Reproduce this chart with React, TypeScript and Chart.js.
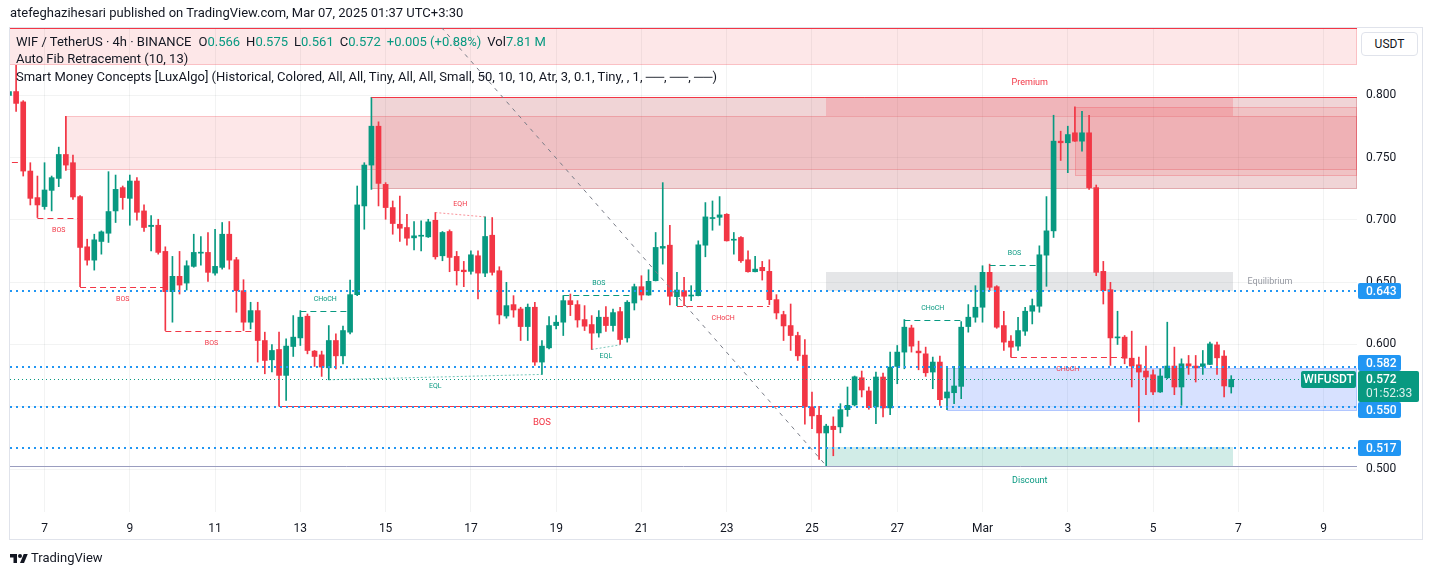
import React, { useEffect, useRef } from "react";
import { Chart, registerables } from "chart.js";

Chart.register(...registerables);

// ---- candle data (4h candles, index 0 = Feb 6 ~04:00) ----
const opens = [
  0.8000, 0.8030, 0.7947, 0.7392, 0.7179, 0.7107, 0.7237, 0.7333, 0.7525, 0.7459,
  0.7187, 0.6784, 0.6677, 0.6827, 0.6893, 0.7072, 0.7259, 0.7173, 0.7312, 0.7072,
  0.6947, 0.6957, 0.6747, 0.6424, 0.6547, 0.6493, 0.6627, 0.6733, 0.6739, 0.6573,
  0.6619, 0.6885, 0.6680, 0.6432, 0.6179, 0.6272, 0.6032, 0.5877, 0.5960, 0.5752,
  0.5984, 0.6053, 0.6227, 0.5947, 0.5917, 0.5813, 0.6032, 0.5909, 0.6099, 0.6400,
  0.7112, 0.7440, 0.7752, 0.7285, 0.7099, 0.6965, 0.6939, 0.6856, 0.6869, 0.6864,
  0.6997, 0.6712, 0.6907, 0.6707, 0.6597, 0.6587, 0.6712, 0.6573, 0.6877, 0.6592,
  0.6229, 0.6320, 0.6285, 0.6144, 0.6299, 0.5859, 0.5973, 0.6152, 0.6179, 0.6352,
  0.6320, 0.6200, 0.6160, 0.6093, 0.6219, 0.6152, 0.6264, 0.6053, 0.6333, 0.6464,
  0.6397, 0.6512, 0.6773, 0.6797, 0.6384, 0.6432, 0.6389, 0.6392, 0.6797, 0.7011,
  0.7021, 0.7045, 0.6837, 0.6859, 0.6680, 0.6584, 0.6619, 0.6587, 0.6360, 0.6240,
  0.6152, 0.6072, 0.5915, 0.5500, 0.5432, 0.5290, 0.5344, 0.5339, 0.5477, 0.5515,
  0.5733, 0.5627, 0.5499, 0.5739, 0.5491, 0.5824, 0.5939, 0.6133, 0.5947, 0.5925,
  0.5779, 0.5859, 0.5571, 0.5613, 0.5664, 0.6144, 0.6219, 0.6299, 0.6579, 0.6464,
  0.6152, 0.6027, 0.5987, 0.6107, 0.6267, 0.6307, 0.6717, 0.6912, 0.7632, 0.7619,
  0.7699, 0.7632, 0.7699, 0.7259, 0.6587, 0.6440, 0.6053, 0.6059, 0.5890, 0.5837,
  0.5787, 0.5757, 0.5619, 0.5733, 0.5827, 0.5659, 0.5845, 0.5827, 0.5824, 0.5840,
  0.5997, 0.5907, 0.5660,
];
const highs = [
  0.8060, 0.8240, 0.7957, 0.7459, 0.7352, 0.7459, 0.7352, 0.7584, 0.7832, 0.7520,
  0.7195, 0.6845, 0.6885, 0.6912, 0.7387, 0.7360, 0.7272, 0.7360, 0.7339, 0.7120,
  0.7035, 0.7005, 0.6784, 0.6707, 0.6747, 0.6672, 0.6885, 0.6867, 0.6899, 0.6925,
  0.6979, 0.6987, 0.6699, 0.6520, 0.6339, 0.6339, 0.6099, 0.6000, 0.6099, 0.6045,
  0.6232, 0.6272, 0.6245, 0.5952, 0.5947, 0.6152, 0.6085, 0.6147, 0.6517, 0.7272,
  0.7459, 0.7984, 0.7787, 0.7299, 0.7152, 0.7192, 0.7045, 0.6987, 0.6992, 0.7005,
  0.7059, 0.6907, 0.6920, 0.6747, 0.6667, 0.6752, 0.6752, 0.7024, 0.7019, 0.6624,
  0.6499, 0.6392, 0.6299, 0.6325, 0.6339, 0.6032, 0.6224, 0.6232, 0.6392, 0.6405,
  0.6352, 0.6312, 0.6232, 0.6272, 0.6304, 0.6285, 0.6299, 0.6352, 0.6485, 0.6552,
  0.6600, 0.6899, 0.7299, 0.6957, 0.6579, 0.6539, 0.6472, 0.6832, 0.7139, 0.7152,
  0.7187, 0.7050, 0.6899, 0.6867, 0.6752, 0.6707, 0.6667, 0.6680, 0.6400, 0.6267,
  0.6325, 0.6099, 0.6040, 0.5619, 0.5504, 0.5360, 0.5419, 0.5525, 0.5659, 0.5747,
  0.5787, 0.5659, 0.5779, 0.5771, 0.5939, 0.5992, 0.6200, 0.6155, 0.6027, 0.5979,
  0.5899, 0.5907, 0.5819, 0.5824, 0.6184, 0.6320, 0.6472, 0.6632, 0.6645, 0.6472,
  0.6267, 0.6072, 0.6219, 0.6299, 0.6365, 0.6792, 0.7187, 0.7840, 0.7712, 0.7752,
  0.7907, 0.7872, 0.7840, 0.7280, 0.6667, 0.6499, 0.6267, 0.6072, 0.6107, 0.5899,
  0.5987, 0.5797, 0.5805, 0.6179, 0.5979, 0.5885, 0.5912, 0.5912, 0.5952, 0.6019,
  0.6019, 0.5952, 0.5750,
];
const lows = [
  0.7980, 0.7870, 0.7352, 0.7120, 0.7019, 0.7085, 0.7072, 0.7267, 0.7397, 0.7165,
  0.6464, 0.6637, 0.6597, 0.6725, 0.6819, 0.6979, 0.7085, 0.6957, 0.6997, 0.6907,
  0.6752, 0.6725, 0.6112, 0.6179, 0.6405, 0.6437, 0.6620, 0.6637, 0.6507, 0.6557,
  0.6605, 0.6605, 0.6259, 0.6112, 0.6125, 0.5859, 0.5765, 0.5779, 0.5505, 0.5552,
  0.5904, 0.5992, 0.5925, 0.5824, 0.5744, 0.5717, 0.5805, 0.5845, 0.6085, 0.6392,
  0.6925, 0.7245, 0.7112, 0.7005, 0.6885, 0.6827, 0.6797, 0.6760, 0.6752, 0.6859,
  0.6685, 0.6672, 0.6584, 0.6477, 0.6464, 0.6565, 0.6365, 0.6544, 0.6557, 0.6165,
  0.6211, 0.6219, 0.6032, 0.6032, 0.5832, 0.5760, 0.5965, 0.6125, 0.6072, 0.6232,
  0.6139, 0.6112, 0.5960, 0.6059, 0.6104, 0.6107, 0.6000, 0.6019, 0.6277, 0.6357,
  0.6395, 0.6510, 0.6645, 0.6317, 0.6312, 0.6312, 0.6352, 0.6390, 0.6704, 0.6917,
  0.6957, 0.6830, 0.6725, 0.6659, 0.6580, 0.6582, 0.6517, 0.6320, 0.6205, 0.6032,
  0.5952, 0.5872, 0.5360, 0.5325, 0.5077, 0.5027, 0.5107, 0.5291, 0.5424, 0.5507,
  0.5579, 0.5480, 0.5365, 0.5419, 0.5437, 0.5685, 0.5805, 0.5939, 0.5797, 0.5744,
  0.5645, 0.5512, 0.5477, 0.5525, 0.5565, 0.6099, 0.6179, 0.6179, 0.6432, 0.6130,
  0.5952, 0.5899, 0.5952, 0.6072, 0.6165, 0.6259, 0.6467, 0.6859, 0.7477, 0.7379,
  0.7630, 0.7552, 0.7245, 0.6552, 0.6325, 0.5832, 0.6000, 0.5845, 0.5659, 0.5379,
  0.5597, 0.5597, 0.5615, 0.5725, 0.5597, 0.5512, 0.5760, 0.5699, 0.5760, 0.5838,
  0.5760, 0.5579, 0.5610,
];
const closes = [
  0.8030, 0.7935, 0.7392, 0.7173, 0.7120, 0.7240, 0.7339, 0.7525, 0.7440, 0.7184,
  0.6779, 0.6677, 0.6840, 0.6904, 0.7067, 0.7245, 0.7179, 0.7312, 0.7061, 0.6939,
  0.6957, 0.6739, 0.6424, 0.6547, 0.6477, 0.6632, 0.6739, 0.6739, 0.6579, 0.6627,
  0.6885, 0.6677, 0.6432, 0.6179, 0.6272, 0.6032, 0.5872, 0.5952, 0.5752, 0.5987,
  0.6059, 0.6219, 0.5952, 0.5904, 0.5819, 0.6032, 0.5909, 0.6112, 0.6400, 0.7120,
  0.7440, 0.7752, 0.7293, 0.7099, 0.6971, 0.6933, 0.6853, 0.6872, 0.6877, 0.6984,
  0.6704, 0.6899, 0.6699, 0.6592, 0.6584, 0.6720, 0.6573, 0.6867, 0.6579, 0.6237,
  0.6312, 0.6277, 0.6144, 0.6299, 0.5859, 0.5987, 0.6152, 0.6179, 0.6352, 0.6320,
  0.6197, 0.6147, 0.6091, 0.6219, 0.6152, 0.6256, 0.6040, 0.6339, 0.6464, 0.6397,
  0.6507, 0.6779, 0.6787, 0.6387, 0.6437, 0.6387, 0.6395, 0.6800, 0.7024, 0.7019,
  0.7040, 0.6832, 0.6845, 0.6672, 0.6584, 0.6605, 0.6592, 0.6360, 0.6253, 0.6149,
  0.6072, 0.5909, 0.5500, 0.5427, 0.5290, 0.5345, 0.5317, 0.5477, 0.5512, 0.5741,
  0.5635, 0.5493, 0.5739, 0.5491, 0.5819, 0.5939, 0.6139, 0.5987, 0.5933, 0.5773,
  0.5859, 0.5557, 0.5619, 0.5667, 0.6139, 0.6219, 0.6299, 0.6579, 0.6459, 0.6139,
  0.6019, 0.5979, 0.6112, 0.6267, 0.6312, 0.6720, 0.6912, 0.7632, 0.7619, 0.7685,
  0.7632, 0.7699, 0.7259, 0.6579, 0.6432, 0.6053, 0.6059, 0.5890, 0.5827, 0.5779,
  0.5739, 0.5619, 0.5747, 0.5827, 0.5659, 0.5845, 0.5827, 0.5813, 0.5845, 0.6005,
  0.5893, 0.5667, 0.5720,
];

// ---- axes ----
const dayTickIndex = [5, 17, 29, 41, 53, 65, 77, 89, 101, 113, 125, 137, 149, 161, 173, 185];
const dayTickLabels = ["7", "9", "11", "13", "15", "17", "19", "21", "23", "25", "27", "Mar", "3", "5", "7", "9"];
const priceTicks = [0.5, 0.55, 0.6, 0.65, 0.7, 0.75, 0.8];
const viewRange = [0.14, 189.7];
const priceRange = [0.46557, 0.85401];

// ---- Smart Money Concepts drawings ----
// order blocks: [start index, top, bottom, kind]
const bearishBlocks: [number, number, number, string][] = [
  [0, 0.8540, 0.8240, "internal"],
  [8, 0.7832, 0.7397, "internal"],
  [51, 0.7984, 0.7245, "swing"],
  [150, 0.7907, 0.7352, "internal"],
];
const bullishBlocks: [number, number, number, string][] = [[132, 0.5815, 0.5470, "internal"]];
// trailing extremes: [start index, price]
const trailingHighs: [number, number][] = [[0, 0.8537], [51, 0.7984]];
const zoneSpan = [115, 172.3];
const premiumZone = [0.7984, 0.7836];
const equilibriumZone = [0.6580, 0.6432];
const discountZone = [0.5175, 0.5027];
// structure breaks: [from, to, level, label, direction, kind]
const structureBreaks: [number, number, number, string, string, string][] = [
  [-1, 1.8, 0.7467, "", "bear", "internal"],
  [4, 10, 0.7019, "BOS", "bear", "internal"],
  [10, 22, 0.6464, "BOS", "bear", "internal"],
  [22, 35, 0.6112, "BOS", "bear", "internal"],
  [38, 112, 0.5505, "BOS", "bear", "swing"],
  [41, 48, 0.6272, "CHoCH", "bull", "internal"],
  [78, 88, 0.6395, "BOS", "bull", "internal"],
  [94, 107, 0.6312, "CHoCH", "bear", "internal"],
  [126, 134, 0.6200, "CHoCH", "bull", "internal"],
  [138, 145, 0.6640, "BOS", "bull", "internal"],
  [141, 157, 0.5899, "CHoCH", "bear", "internal"],
];
// equal highs / lows: [from, price1, to, price2, label, direction]
const equalLevels: [number, number, number, number, string, string][] = [
  [45, 0.5717, 75, 0.5760, "EQL", "bull"],
  [60, 0.7059, 67, 0.7024, "EQH", "bear"],
  [82, 0.5960, 86, 0.5997, "EQL", "bull"],
];
// horizontal levels drawn by the author
const levelLines = [0.643, 0.582, 0.55, 0.517];
// auto fib trend line: [index, price] start and end, plus the base level
const fibTrend: [number, number][] = [[60, 0.8600], [115, 0.5027]];
const fibBaseLevel = 0.5027;

const symbolName = "WIFUSDT";
const countdown = "01:52:33";

const UP = "#089981";
const DOWN = "#f23645";
const BLUE = "#2196f3";
const TEXT = "#131722";
const FONT = "Roboto, sans-serif";

const candleColors = closes.map((c, i) => (c >= opens[i] ? UP : DOWN));
const lastIndex = closes.length - 1;
const lastPrice = closes[lastIndex];

const overlayPlugin = {
  id: "smcOverlay",
  beforeDatasetsDraw(chart: any) {
    const { ctx, chartArea: a, scales } = chart;
    const X = (v: number) => scales.x.getPixelForValue(v);
    const Y = (v: number) => scales.y.getPixelForValue(v);
    ctx.save();
    ctx.beginPath();
    ctx.rect(a.left, a.top, a.right - a.left, a.bottom - a.top);
    ctx.clip();
    const box = (x1: number, x2: number, top: number, bottom: number, fill: string, stroke: string | null) => {
      const y1 = Math.round(Y(top));
      const y2 = Math.round(Y(bottom));
      const l = Math.round(x1);
      const r = Math.round(x2);
      ctx.fillStyle = fill;
      ctx.fillRect(l, y1, r - l, y2 - y1);
      if (stroke) {
        ctx.strokeStyle = stroke;
        ctx.lineWidth = 1;
        ctx.strokeRect(l + 0.5, y1 + 0.5, r - l - 1, y2 - y1 - 1);
      }
    };
    bearishBlocks.forEach(([s, t, b, kind]) => {
      if (kind === "swing") box(X(s), a.right, t, b, "rgba(178,40,51,0.2)", "rgba(178,40,51,0.25)");
      else box(X(s), a.right, t, b, "rgba(242,54,69,0.12)", "rgba(242,54,69,0.22)");
    });
    bullishBlocks.forEach(([s, t, b]) => {
      box(X(s), a.right, t, b, "rgba(41,98,255,0.19)", "rgba(41,98,255,0.22)");
    });
    const zl = X(zoneSpan[0]);
    const zr = X(zoneSpan[1]);
    box(zl, zr, premiumZone[0], premiumZone[1], "rgba(242,54,69,0.2)", null);
    box(zl, zr, equilibriumZone[0], equilibriumZone[1], "rgba(135,139,148,0.22)", null);
    box(zl, zr, discountZone[0], discountZone[1], "rgba(8,153,129,0.19)", null);
    ctx.restore();
  },
  afterDatasetsDraw(chart: any) {
    const { ctx, chartArea: a, scales } = chart;
    const X = (v: number) => scales.x.getPixelForValue(v);
    const Y = (v: number) => scales.y.getPixelForValue(v);
    const snap = (v: number) => Math.round(v) + 0.5;
    ctx.save();
    ctx.beginPath();
    ctx.rect(a.left, a.top, a.right - a.left, a.bottom - a.top);
    ctx.clip();
    const hline = (x1: number, x2: number, y: number, color: string, width: number, dash: number[]) => {
      ctx.beginPath();
      ctx.setLineDash(dash);
      ctx.strokeStyle = color;
      ctx.lineWidth = width;
      ctx.moveTo(x1, y);
      ctx.lineTo(x2, y);
      ctx.stroke();
    };
    const text = (t: string, x: number, y: number, color: string, size: number, align: CanvasTextAlign = "center") => {
      ctx.font = `${size}px ${FONT}`;
      ctx.fillStyle = color;
      ctx.textAlign = align;
      ctx.textBaseline = "middle";
      ctx.fillText(t, x, y);
    };

    // trailing highs (red) and fib base (gray)
    trailingHighs.forEach(([s, p]) => hline(X(s), a.right, snap(Y(p)), DOWN, 1, []));
    hline(a.left, a.right, snap(Y(fibBaseLevel)), "#9a9dbf", 1, []);

    // fib trend line
    ctx.beginPath();
    ctx.setLineDash([4, 5]);
    ctx.strokeStyle = "#787b86";
    ctx.lineWidth = 1;
    ctx.moveTo(X(fibTrend[0][0]), Y(fibTrend[0][1]));
    ctx.lineTo(X(fibTrend[1][0]), Y(fibTrend[1][1]));
    ctx.stroke();

    // structure
    structureBreaks.forEach(([f, t, lvl, label, dir, kind]) => {
      const col = dir === "bull" ? UP : DOWN;
      const y = snap(Y(lvl));
      hline(X(f), X(t), y, col, 1, kind === "internal" ? [6, 4] : []);
      if (label) {
        const off = kind === "internal" ? 12 : 16;
        const size = kind === "internal" ? 7 : 9.5;
        text(label, (X(f) + X(t)) / 2, y + (dir === "bull" ? -off : off), col, size);
      }
    });

    // equal highs / lows
    equalLevels.forEach(([f, p1, t, p2, label, dir]) => {
      const col = dir === "bull" ? "rgba(8,153,129,0.55)" : "rgba(242,54,69,0.55)";
      ctx.beginPath();
      ctx.setLineDash([2, 2]);
      ctx.strokeStyle = col;
      ctx.lineWidth = 1;
      ctx.moveTo(X(f), Y(p1));
      ctx.lineTo(X(t), Y(p2));
      ctx.stroke();
      const mid = (Y(p1) + Y(p2)) / 2;
      text(label, (X(f) + X(t)) / 2, mid + (dir === "bull" ? 9 : -10), dir === "bull" ? UP : DOWN, 7);
    });

    // premium / discount labels
    const zc = (X(zoneSpan[0]) + X(zoneSpan[1])) / 2;
    text("Premium", zc, Y(premiumZone[0]) - 15, DOWN, 9);
    text("Discount", zc, Y(discountZone[1]) + 15, UP, 9);
    text("Equilibrium", X(zoneSpan[1] + 2), (Y(equilibriumZone[0]) + Y(equilibriumZone[1])) / 2, "#9598a1", 9, "left");

    // author levels
    levelLines.forEach((p) => hline(a.left, a.right, Math.round(Y(p)), BLUE, 2, [2, 4]));
    // last price line
    hline(a.left, a.right, snap(Y(lastPrice)), UP, 1, [1, 3]);
    ctx.restore();
  },
  afterDraw(chart: any) {
    const { ctx, chartArea: a, scales } = chart;
    const Y = (v: number) => scales.y.getPixelForValue(v);
    ctx.save();
    ctx.setLineDash([]);
    const rr = (x: number, y: number, w: number, h: number, r: number) => {
      ctx.beginPath();
      ctx.moveTo(x + r, y);
      ctx.lineTo(x + w - r, y);
      ctx.quadraticCurveTo(x + w, y, x + w, y + r);
      ctx.lineTo(x + w, y + h - r);
      ctx.quadraticCurveTo(x + w, y + h, x + w - r, y + h);
      ctx.lineTo(x + r, y + h);
      ctx.quadraticCurveTo(x, y + h, x, y + h - r);
      ctx.lineTo(x, y + r);
      ctx.quadraticCurveTo(x, y, x + r, y);
      ctx.fill();
    };
    const tagX = a.right + 1;
    const lastY = Math.round(Y(lastPrice));
    const gTop = lastY - 8;
    const gBot = gTop + 31;
    // blue tags
    levelLines.forEach((p) => {
      let top = Math.round(Y(p)) - 8;
      if (top < gBot && top + 16 > gTop) {
        if (Y(p) < lastY) top = gTop - 16;
        else top = gBot;
      }
      ctx.fillStyle = BLUE;
      rr(tagX, top, 43, 16, 2);
      ctx.fillStyle = "#ffffff";
      ctx.font = `500 12px ${FONT}`;
      ctx.textAlign = "left";
      ctx.textBaseline = "middle";
      ctx.fillText(p.toFixed(3), a.right + 9, top + 8.5);
    });
    // last price tag
    ctx.fillStyle = UP;
    rr(tagX, gTop, 61, 31, 2);
    ctx.fillStyle = "#ffffff";
    ctx.font = `500 12px ${FONT}`;
    ctx.textAlign = "left";
    ctx.textBaseline = "middle";
    ctx.fillText(lastPrice.toFixed(3), a.right + 9, gTop + 8.5);
    ctx.fillStyle = "rgba(255,255,255,0.85)";
    ctx.font = `12px ${FONT}`;
    ctx.fillText(countdown, a.right + 9, gTop + 23);
    // symbol label
    ctx.fillStyle = UP;
    rr(a.right - 56, gTop, 55, 17, 2);
    ctx.fillStyle = "#ffffff";
    ctx.font = `500 12px ${FONT}`;
    ctx.textAlign = "center";
    ctx.fillText(symbolName, a.right - 28.5, gTop + 9);
    // frame
    ctx.strokeStyle = "#e0e3eb";
    ctx.lineWidth = 1;
    ctx.strokeRect(9.5, 27.5, 1413, 512);
    ctx.restore();
  },
};

export default function App() {
  const ref = useRef<HTMLCanvasElement>(null);
  useEffect(() => {
    document.body.style.margin = "0";
    const idx = closes.map((_, i) => i);
    const chart = new Chart(ref.current as HTMLCanvasElement, {
      type: "bar",
      data: {
        datasets: [
          {
            label: "wick",
            data: idx.map((i) => ({ x: i, y: [lows[i], highs[i]] })) as any,
            backgroundColor: candleColors,
            barThickness: 1,
            grouped: false,
            order: 2,
          },
          {
            label: "body",
            data: idx.map((i) => ({ x: i, y: [opens[i], closes[i]] })) as any,
            backgroundColor: candleColors,
            barThickness: 5,
            minBarLength: 1,
            grouped: false,
            order: 1,
          },
        ],
      },
      options: {
        animation: false,
        responsive: false,
        devicePixelRatio: 1,
        layout: { padding: { left: 10, top: 28, right: 0, bottom: 36 } },
        plugins: { legend: { display: false }, tooltip: { enabled: false } },
        events: [],
        scales: {
          x: {
            type: "linear",
            min: viewRange[0],
            max: viewRange[1],
            offset: false,
            grid: { color: "rgba(42,46,57,0.06)", drawTicks: false, offset: false },
            border: { display: false },
            afterBuildTicks: (scale: any) => {
              scale.ticks = dayTickIndex.map((v) => ({ value: v }));
            },
            afterFit: (scale: any) => {
              scale.height = 28;
            },
            ticks: {
              autoSkip: false,
              maxRotation: 0,
              padding: 10,
              color: TEXT,
              font: { family: FONT, size: 12 },
              callback: (_v: any, i: number) => dayTickLabels[i],
            },
          },
          y: {
            type: "linear",
            position: "right",
            min: priceRange[0],
            max: priceRange[1],
            grid: { color: "rgba(42,46,57,0.06)", drawTicks: false },
            border: { display: false },
            afterBuildTicks: (scale: any) => {
              scale.ticks = priceTicks.map((v) => ({ value: v }));
            },
            afterFit: (scale: any) => {
              scale.width = 76;
            },
            ticks: {
              padding: 9,
              color: TEXT,
              font: { family: FONT, size: 12 },
              callback: (v: any) => Number(v).toFixed(3),
            },
          },
        },
      },
      plugins: [overlayPlugin],
    } as any);
    return () => chart.destroy();
  }, []);

  const green = { color: UP };
  const legendLine: React.CSSProperties = {
    position: "absolute",
    left: 16,
    fontSize: 13,
    lineHeight: "16px",
    color: TEXT,
    whiteSpace: "nowrap",
  };
  return (
    <div style={{ position: "relative", width: 1433, height: 576, background: "#ffffff", overflow: "hidden", fontFamily: FONT }}>
      <canvas ref={ref} width={1433} height={576} style={{ position: "absolute", left: 0, top: 0 }} />
      <div style={{ position: "absolute", left: 10, top: 5, fontSize: 13, lineHeight: "16px", color: TEXT, whiteSpace: "nowrap" }}>
        atefeghazihesari published on TradingView.com, Mar 07, 2025 01:37 UTC+3:30
      </div>
      <div style={{ ...legendLine, top: 34 }}>
        WIF / TetherUS · 4h · BINANCE
        <span style={{ marginLeft: 7 }}>O</span><span style={green}>{opens[lastIndex].toFixed(3)}</span>
        <span style={{ marginLeft: 6 }}>H</span><span style={green}>{highs[lastIndex].toFixed(3)}</span>
        <span style={{ marginLeft: 6 }}>L</span><span style={green}>{lows[lastIndex].toFixed(3)}</span>
        <span style={{ marginLeft: 6 }}>C</span><span style={green}>{closes[lastIndex].toFixed(3)}</span>
        <span style={{ marginLeft: 6, color: UP }}>+0.005 (+0.88%)</span>
        <span style={{ marginLeft: 6 }}>Vol</span><span style={green}>7.81 M</span>
      </div>
      <div style={{ ...legendLine, top: 51 }}>Auto Fib Retracement (10, 13)</div>
      <div style={{ ...legendLine, top: 69 }}>
        Smart Money Concepts [LuxAlgo] (Historical, Colored, All, All, Tiny, All, All, Small, 50, 10, 10, Atr, 3, 0.1, Tiny, , 1, ──, ──, ──)
      </div>
      <div
        style={{
          position: "absolute",
          left: 1361,
          top: 32,
          width: 55,
          height: 22,
          border: "1px solid #e0e3eb",
          borderRadius: 4,
          background: "#fff",
          fontSize: 12,
          lineHeight: "22px",
          textAlign: "center",
          color: TEXT,
        }}
      >
        USDT
      </div>
      <div style={{ position: "absolute", left: 10, top: 551, display: "flex", alignItems: "center", gap: 3 }}>
        <svg width="18" height="13" viewBox="0 0 36 26">
          <path d="M14 22H7V11H0V4h14v18z" fill={TEXT} />
          <circle cx="20" cy="8" r="4" fill={TEXT} />
          <path d="M28 22h-8l7.5-18h8L28 22z" fill={TEXT} />
        </svg>
        <span style={{ fontSize: 13, color: TEXT, lineHeight: "14px" }}>TradingView</span>
      </div>
    </div>
  );
}
